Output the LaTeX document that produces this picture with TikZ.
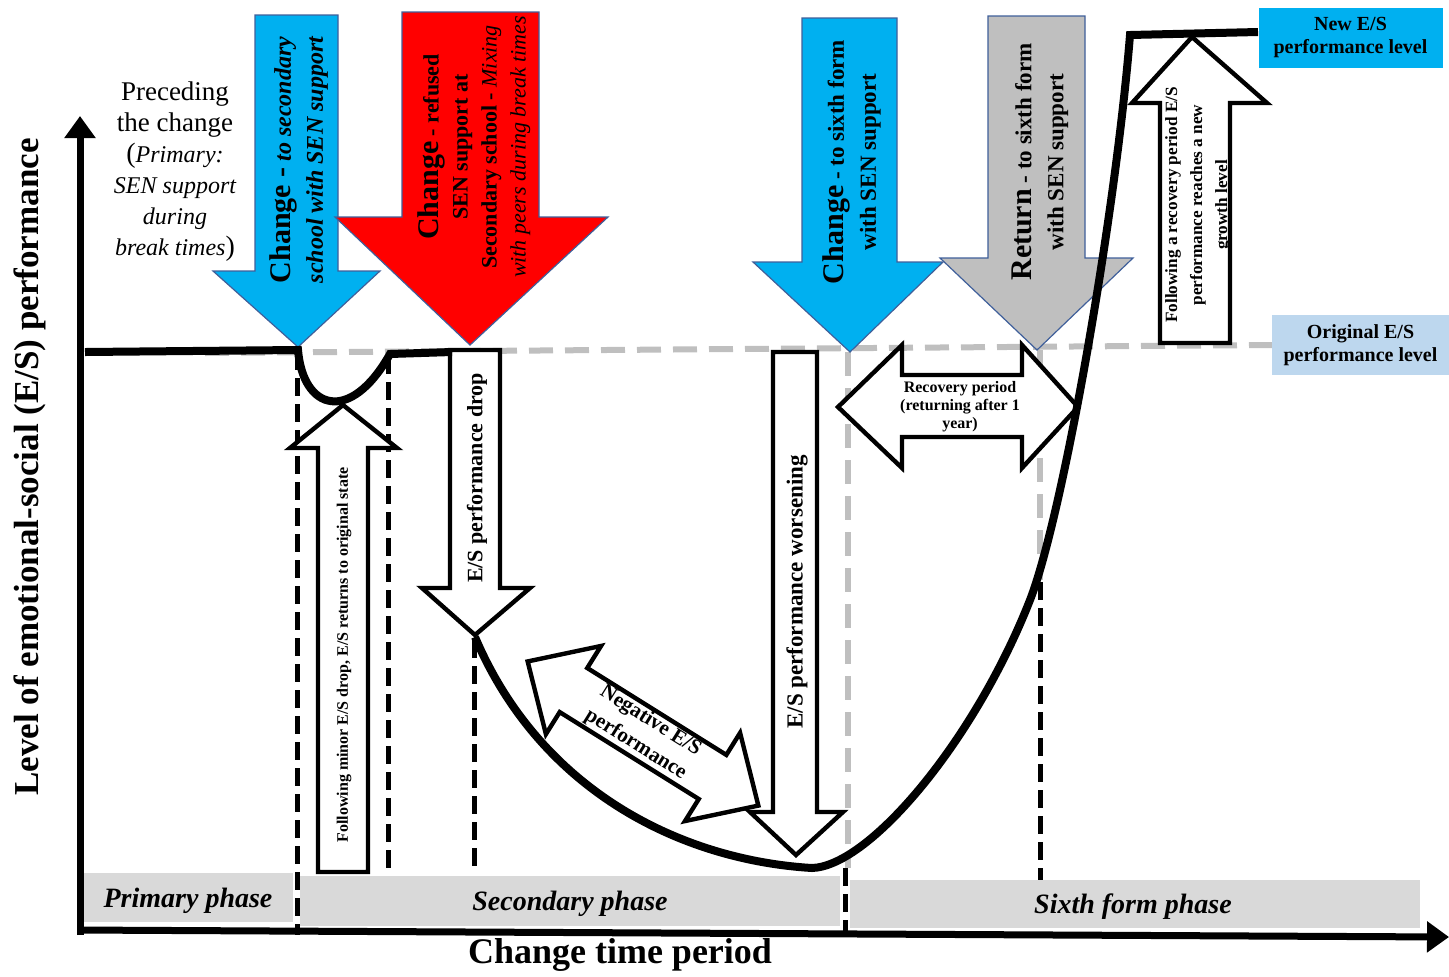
\documentclass[tikz,border=0pt]{standalone}
\usepackage{fontspec}
\setmainfont{Liberation Serif}
\usetikzlibrary{arrows.meta}
\definecolor{cyanfill}{HTML}{00B0F0}
\definecolor{redfill}{HTML}{FF0000}
\definecolor{greyfill}{HTML}{BFBFBF}
\definecolor{edgeblue}{HTML}{3F5F9A}
\definecolor{phasegrey}{HTML}{D9D9D9}
\definecolor{dashgrey}{HTML}{BFBFBF}
\definecolor{lightblue}{HTML}{BDD7EE}
\newcommand{\myfs}[2]{\fontsize{#1}{#2}\selectfont}
\tikzset{
  whitearrow/.style={draw=black, line width=2.2pt, fill=white, line join=miter},
  bigarrow/.style={draw=edgeblue, line width=0.6pt, line join=miter},
  perf/.style={draw=black, line width=4pt, line join=miter},
  axisline/.style={draw=black, line width=3.5pt, -{Triangle[width=15pt,length=11pt]}},
  blackdash/.style={draw=black, line width=2.5pt, dash pattern=on 9pt off 4pt},
  greydash/.style={draw=dashgrey, line width=3pt, dash pattern=on 12pt off 6pt},
  phasebar/.style={fill=phasegrey, draw=none},
  phasetext/.style={font=\myfs{14}{16}\bfseries\itshape},
  levelbox/.style={draw=none, minimum width=92pt, minimum height=30pt, align=center, font=\myfs{10}{11.5}\bfseries},
  rottext/.style={rotate=90, align=center, inner sep=0pt},
}
\begin{document}
\begin{tikzpicture}[x=0.5pt,y=-0.5pt]
\useasboundingbox (0,0) rectangle (1449,976);

% phase bars
\fill[phasebar] (80,873) rectangle (293,922);
\fill[phasebar] (300,876) rectangle (840,926);
\fill[phasebar] (850,880) rectangle (1420,928);
\node[phasetext] (prim) at (188,901) {Primary phase};
\node[phasetext] (sec) at (570,904) {Secondary phase};
\node[phasetext] (sixth) at (1133,907) {Sixth form phase};

% reference lines
\draw[greydash] (205,353) -- (1272,345);
\draw[greydash] (848,352) -- (848,868);
\draw[greydash] (1040,350) -- (1040,580);
\draw[blackdash] (297,352) -- (297,935);
\draw[blackdash] (388,356) -- (388,872);
\draw[blackdash] (474,640) -- (474,870);
\draw[blackdash] (845,868) -- (845,935);
\draw[blackdash] (1040,582) -- (1040,880);

% white arrows
\draw[whitearrow] (343,405) -- (397,448) -- (368,448) -- (368,872) -- (318,872) -- (318,448) -- (290,448) -- cycle;
\draw[whitearrow] (450,350) -- (500,350) -- (500,588) -- (530,588) -- (475,635) -- (422,588) -- (450,588) -- cycle;
\draw[whitearrow] (773,352) -- (817,352) -- (817,812) -- (843,812) -- (796,855) -- (750,812) -- (773,812) -- cycle;
\begin{scope}[shift={(643,733.5)}, rotate=-32]
\draw[whitearrow] (-136,0) -- (-82,-52) -- (-82,-26) -- (82,-26) -- (82,-52) -- (136,0) -- (82,52) -- (82,26) -- (-82,26) -- (-82,52) -- cycle;
\end{scope}
\draw[whitearrow] (838,407) -- (902,345) -- (902,375) -- (1022,375) -- (1022,345) -- (1078,407) -- (1022,468) -- (1022,437) -- (902,437) -- (902,468) -- cycle;
\draw[whitearrow] (1192,37) -- (1267,103) -- (1230,103) -- (1230,343) -- (1160,343) -- (1160,103) -- (1132,103) -- cycle;

% big coloured arrows
\draw[bigarrow, fill=cyanfill] (255,15) -- (338,15) -- (338,271) -- (380,271) -- (298,347) -- (213,271) -- (255,271) -- cycle;
\draw[bigarrow, fill=redfill] (402,12) -- (539,12) -- (539,217) -- (608,217) -- (470,345) -- (335,217) -- (402,217) -- cycle;
\draw[bigarrow, fill=cyanfill] (802,18) -- (897,18) -- (897,262) -- (943,262) -- (850,352) -- (753,262) -- (802,262) -- cycle;
\draw[bigarrow, fill=greyfill] (988,16) -- (1085,16) -- (1085,258) -- (1133,258) -- (1037,350) -- (940,258) -- (988,258) -- cycle;

% performance curve
\draw[perf] (85,352) -- (298,350) .. controls (303,410) and (350,425) .. (390,354) -- (452,352);
\draw[perf] (475,637) .. controls (540,790) and (680,860) .. (812,868)
  .. controls (870,866) and (975,740) .. (1030,600)
  .. controls (1062,518) and (1115,220) .. (1130,35) -- (1258,32);

% axes
\draw[axisline] (80,935) -- (80,116);
\draw[axisline] (78,930) -- (1449,937);

% axis labels
\node[rotate=90, font=\myfs{17.5}{20}\bfseries] (ylab) at (30,467) {Level of emotional-social (E/S) performance};
\node[font=\myfs{18}{20}\bfseries] (xlab) at (620,955) {Change time period};

% preceding text
\node[align=center, font=\myfs{13.5}{15.5}, inner sep=0pt] (prec) at (175,172)
  {Preceding\\the change\\{\myfs{14}{15.5}(}{\itshape\myfs{12}{15.5}Primary:}\\{\itshape\myfs{12}{15.5}SEN support}\\{\itshape\myfs{12}{15.5}during}\\{\itshape\myfs{12}{15.5}break times}{\myfs{14}{15.5})}};

% texts in big arrows
\node[rottext, font=\myfs{12}{16}] (t1) at (299,160)
  {{\myfs{15}{16}\bfseries Change -} {\bfseries\itshape to secondary}\\{\bfseries\itshape school with SEN support}};
\node[rottext, font=\myfs{11}{14.5}] (t2) at (474,147)
  {{\myfs{15}{16}\bfseries Change} {\bfseries - refused}\\{\bfseries SEN support at}\\{\bfseries Secondary school -} {\itshape Mixing}\\{\itshape with peers during break times}};
\node[rottext, font=\myfs{11.5}{16}] (t3) at (852,162)
  {{\myfs{15}{16}\bfseries Change} {\bfseries - to sixth form}\\{\bfseries with SEN support}};
\node[rottext, font=\myfs{11.5}{16}] (t4) at (1040,162)
  {{\myfs{15}{16}\bfseries Return} {\bfseries - to sixth form}\\{\bfseries with SEN support}};

% texts in white arrows
\node[rottext, font=\myfs{8}{9}\bfseries] (t5) at (344,655) {Following minor E/S drop, E/S returns to original state};
\node[rottext, font=\myfs{11}{13}\bfseries] (t6) at (477,478) {E/S performance drop};
\node[rottext, font=\myfs{11.5}{13}\bfseries] (t7) at (797,592) {E/S performance worsening};
\node[rotate=-32, align=center, font=\myfs{10.5}{14}\bfseries, inner sep=0pt] (t8) at (643,733) {Negative E/S\\performance};
\node[align=center, font=\myfs{8}{9}\bfseries, inner sep=0pt] (t9) at (960,407) {Recovery period\\(returning after 1\\year)};
\node[rottext, font=\myfs{8.6}{12.5}\bfseries] (t10) at (1198,205) {Following a recovery period E/S\\performance reaches a new\\growth level};

% level boxes
\node[levelbox, fill=cyanfill] (newlvl) at (1350.5,37.5) {New E/S\\performance level};
\node[levelbox, fill=lightblue, minimum width=89pt] (origlvl) at (1360.5,345) {Original E/S\\performance level};
\end{tikzpicture}
\end{document}
